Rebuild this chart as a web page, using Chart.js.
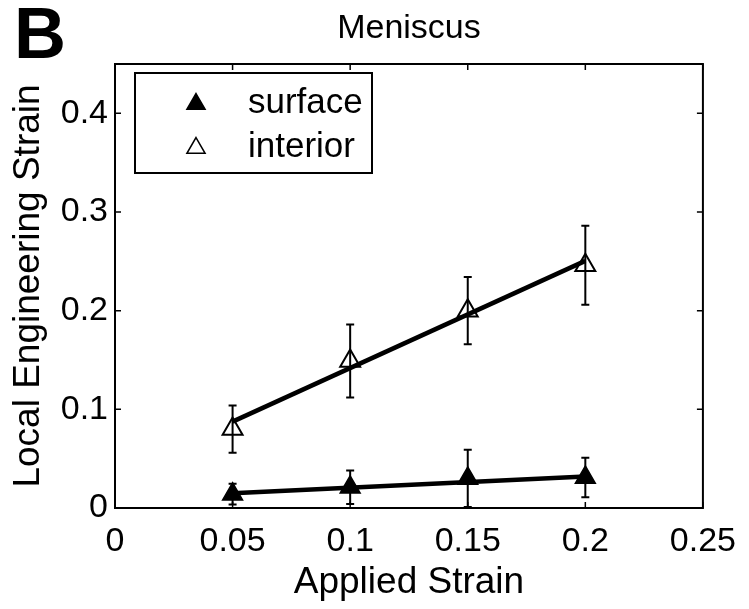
<!DOCTYPE html>
<html><head><meta charset="utf-8">
<script src="https://cdn.jsdelivr.net/npm/chart.js@4.4.0/dist/chart.umd.min.js"></script>
<style>html,body{margin:0;padding:0;background:#fff;}#wrap{width:749px;height:609px;}</style>
</head><body><div id="wrap"><canvas id="c" width="749" height="609"></canvas></div>
<script>
const appliedStrain = [0.05, 0.10, 0.15, 0.20];
const surfaceMean = [0.014, 0.021, 0.030, 0.031];
const surfaceErr = [0.0105, 0.017, 0.029, 0.020];
const interiorMean = [0.080, 0.149, 0.200, 0.246];
const interiorErr = [0.024, 0.037, 0.034, 0.040];
const fitX = [0.05, 0.20];
const surfaceFit = [0.015, 0.032];
const interiorFit = [0.0875, 0.2505];
const xTicks = [0, 0.05, 0.1, 0.15, 0.2, 0.25];
const yTicks = [0, 0.1, 0.2, 0.3, 0.4];
const seriesNames = ['surface', 'interior'];
const chartTitle = 'Meniscus';
const panelLabel = 'B';
const xTitle = 'Applied Strain';
const yTitle = 'Local Engineering Strain';

const FONT = "'Liberation Sans', Arial, Helvetica, sans-serif";
const toPts = (xs, ys) => xs.map((x, i) => ({x: x, y: ys[i]}));

const errorBarPlugin = {
  id: 'errorBars',
  beforeDatasetsDraw(chart) {
    const ctx = chart.ctx, xs = chart.scales.x, ys = chart.scales.y;
    ctx.save();
    ctx.strokeStyle = '#000';
    ctx.lineWidth = 2;
    [[surfaceMean, surfaceErr], [interiorMean, interiorErr]].forEach(([m, e]) => {
      appliedStrain.forEach((x, i) => {
        const px = xs.getPixelForValue(x);
        const top = ys.getPixelForValue(m[i] + e[i]);
        const bot = ys.getPixelForValue(m[i] - e[i]);
        ctx.beginPath();
        ctx.moveTo(px, top); ctx.lineTo(px, bot);
        ctx.moveTo(px - 4, top); ctx.lineTo(px + 4, top);
        ctx.moveTo(px - 4, bot); ctx.lineTo(px + 4, bot);
        ctx.stroke();
      });
    });
    ctx.restore();
  }
};

const frame = {
  id: 'frame',
  afterDraw(chart) {
    const ctx = chart.ctx, a = chart.chartArea, xs = chart.scales.x, ys = chart.scales.y;
    ctx.save();
    ctx.strokeStyle = '#000';
    ctx.lineWidth = 2;
    ctx.strokeRect(a.left, a.top, a.right - a.left, a.bottom - a.top);
    ctx.lineWidth = 1.5;
    const tl = 6;
    ctx.beginPath();
    xTicks.forEach(v => {
      const p = xs.getPixelForValue(v);
      ctx.moveTo(p, a.bottom); ctx.lineTo(p, a.bottom - tl);
      ctx.moveTo(p, a.top); ctx.lineTo(p, a.top + tl);
    });
    yTicks.forEach(v => {
      const p = ys.getPixelForValue(v);
      ctx.moveTo(a.left, p); ctx.lineTo(a.left + tl, p);
      ctx.moveTo(a.right, p); ctx.lineTo(a.right - tl, p);
    });
    ctx.stroke();

    // legend
    const lx = a.left + 20, ly = a.top + 9, lw = 237, lh = 100;
    ctx.fillStyle = '#fff';
    ctx.fillRect(lx, ly, lw, lh);
    ctx.lineWidth = 2;
    ctx.strokeRect(lx, ly, lw, lh);
    const styles = [
      {fill: '#000'},
      {fill: 'rgba(0,0,0,0)'}
    ];
    seriesNames.forEach((name, i) => {
      const cy = ly + 30 + i * 44;
      ctx.save();
      ctx.fillStyle = styles[i].fill;
      ctx.strokeStyle = '#000';
      ctx.lineWidth = 1.5;
      Chart.helpers.drawPoint(ctx, {pointStyle: 'triangle', radius: 10.5, rotation: 0, borderWidth: 1.5}, lx + 61, cy + 1);
      ctx.restore();
      ctx.fillStyle = '#000';
      ctx.font = '35px ' + FONT;
      ctx.textAlign = 'left';
      ctx.textBaseline = 'middle';
      ctx.fillText(name, lx + 113, cy);
    });

    // title and panel label
    ctx.fillStyle = '#000';
    ctx.textAlign = 'center';
    ctx.textBaseline = 'alphabetic';
    ctx.font = '34px ' + FONT;
    ctx.fillText(chartTitle, (a.left + a.right) / 2, 38);
    ctx.textAlign = 'left';
    ctx.font = 'bold 72px ' + FONT;
    ctx.fillText(panelLabel, 14, 58);
    ctx.restore();
  }
};

new Chart(document.getElementById('c'), {
  data: {
    datasets: [
      {type: 'line', data: toPts(fitX, surfaceFit), borderColor: '#000', borderWidth: 4.5, pointRadius: 0, order: 0},
      {type: 'line', data: toPts(fitX, interiorFit), borderColor: '#000', borderWidth: 4.5, pointRadius: 0, order: 0},
      {type: 'scatter', label: seriesNames[0], data: toPts(appliedStrain, surfaceMean), pointStyle: 'triangle', pointRadius: 11.5,
       backgroundColor: '#000', borderColor: '#000', borderWidth: 1.5, order: 1},
      {type: 'scatter', label: seriesNames[1], data: toPts(appliedStrain, interiorMean), pointStyle: 'triangle', pointRadius: 11.5,
       backgroundColor: 'rgba(0,0,0,0)', borderColor: '#000', borderWidth: 2, order: 1}
    ]
  },
  options: {
    responsive: false,
    animation: false,
    events: [],
    layout: {padding: {top: 64, right: 45, left: 0, bottom: 0}},
    plugins: {legend: {display: false}, tooltip: {enabled: false}, title: {display: false}},
    scales: {
      x: {
        type: 'linear', min: 0, max: 0.25,
        afterBuildTicks: s => { s.ticks = xTicks.map(v => ({value: v})); },
        afterFit: s => { s.height = 101; },
        grid: {display: false, drawTicks: false},
        border: {display: false},
        ticks: {color: '#000', padding: 13, maxRotation: 0, autoSkip: false, font: {family: FONT, size: 34},
                callback: v => String(v)},
        title: {display: true, text: xTitle, color: '#000', font: {family: FONT, size: 37}, padding: 4}
      },
      y: {
        type: 'linear', min: 0, max: 0.45,
        afterBuildTicks: s => { s.ticks = yTicks.map(v => ({value: v})); },
        afterFit: s => { s.width = 115; },
        grid: {display: false, drawTicks: false},
        border: {display: false},
        ticks: {color: '#000', padding: 7, autoSkip: false, font: {family: FONT, size: 34},
                callback: v => String(v)},
        title: {display: true, text: yTitle, color: '#000', font: {family: FONT, size: 37}, padding: 7}
      }
    }
  },
  plugins: [errorBarPlugin, frame]
});
</script></body></html>
